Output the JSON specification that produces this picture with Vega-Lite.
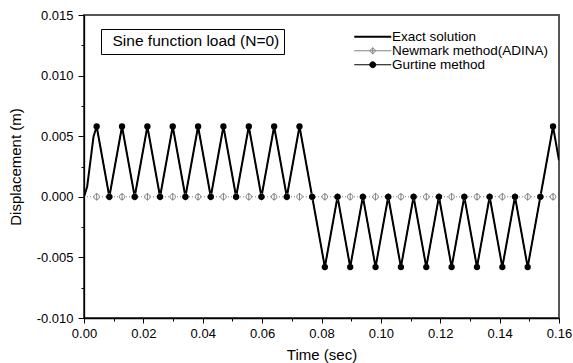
{
  "$schema": "https://vega.github.io/schema/vega-lite/v6.json",
  "width": 475,
  "height": 303,
  "autosize": "none",
  "padding": {"left": 84, "top": 15, "right": 14, "bottom": 45},
  "background": "white",
  "config": {
    "font": "Liberation Sans",
    "view": {"stroke": "#555555", "strokeWidth": 2},
    "axis": {"grid": false, "domainColor": "black", "tickColor": "black", "labelColor": "black", "titleColor": "black", "titleFontWeight": "normal", "labelFontSize": 13, "titleFontSize": 15, "domainWidth": 1.3, "tickWidth": 1}
  },
  "datasets": {
    "exact": [
      {"t":0,"y":0},{"t":0.00107,"y":0.00085},{"t":0.00214,"y":0.0029},{"t":0.0032,"y":0.00495},{"t":0.00427,"y":0.0058},
      {"t":0.00854,"y":0},{"t":0.01281,"y":0.0058},{"t":0.01708,"y":0},{"t":0.02135,"y":0.0058},{"t":0.02562,"y":0},{"t":0.02989,"y":0.0058},{"t":0.03416,"y":0},{"t":0.03843,"y":0.0058},
      {"t":0.0427,"y":0},{"t":0.04697,"y":0.0058},{"t":0.05124,"y":0},{"t":0.05551,"y":0.0058},{"t":0.05978,"y":0},{"t":0.06405,"y":0.0058},{"t":0.06832,"y":0},{"t":0.07259,"y":0.0058},{"t":0.07686,"y":0},
      {"t":0.08113,"y":-0.0058},{"t":0.0854,"y":0},{"t":0.08967,"y":-0.0058},{"t":0.09394,"y":0},{"t":0.09821,"y":-0.0058},{"t":0.10248,"y":0},{"t":0.10675,"y":-0.0058},{"t":0.11102,"y":0},{"t":0.11529,"y":-0.0058},
      {"t":0.11956,"y":0},{"t":0.12383,"y":-0.0058},{"t":0.1281,"y":0},{"t":0.13237,"y":-0.0058},{"t":0.13664,"y":0},{"t":0.14091,"y":-0.0058},{"t":0.14518,"y":0},{"t":0.14945,"y":-0.0058},{"t":0.15372,"y":0},{"t":0.15799,"y":0.0058},
      {"t":0.16,"y":0.003}
    ],
    "newmark": [
      {"t":0,"y":0},{"t":0.00427,"y":0},{"t":0.00854,"y":0},{"t":0.01281,"y":0},{"t":0.01708,"y":0},{"t":0.02135,"y":0},{"t":0.02562,"y":0},{"t":0.02989,"y":0},{"t":0.03416,"y":0},{"t":0.03843,"y":0},
      {"t":0.0427,"y":0},{"t":0.04697,"y":0},{"t":0.05124,"y":0},{"t":0.05551,"y":0},{"t":0.05978,"y":0},{"t":0.06405,"y":0},{"t":0.06832,"y":0},{"t":0.07259,"y":0},{"t":0.07686,"y":0},{"t":0.08113,"y":0},
      {"t":0.0854,"y":0},{"t":0.08967,"y":0},{"t":0.09394,"y":0},{"t":0.09821,"y":0},{"t":0.10248,"y":0},{"t":0.10675,"y":0},{"t":0.11102,"y":0},{"t":0.11529,"y":0},{"t":0.11956,"y":0},{"t":0.12383,"y":0},
      {"t":0.1281,"y":0},{"t":0.13237,"y":0},{"t":0.13664,"y":0},{"t":0.14091,"y":0},{"t":0.14518,"y":0},{"t":0.14945,"y":0},{"t":0.15372,"y":0},{"t":0.15799,"y":0}
    ],
    "gurtine": [
      {"t":0.00427,"y":0.0058},{"t":0.00854,"y":0},{"t":0.01281,"y":0.0058},{"t":0.01708,"y":0},{"t":0.02135,"y":0.0058},{"t":0.02562,"y":0},{"t":0.02989,"y":0.0058},{"t":0.03416,"y":0},{"t":0.03843,"y":0.0058},
      {"t":0.0427,"y":0},{"t":0.04697,"y":0.0058},{"t":0.05124,"y":0},{"t":0.05551,"y":0.0058},{"t":0.05978,"y":0},{"t":0.06405,"y":0.0058},{"t":0.06832,"y":0},{"t":0.07259,"y":0.0058},{"t":0.07686,"y":0},
      {"t":0.08113,"y":-0.0058},{"t":0.0854,"y":0},{"t":0.08967,"y":-0.0058},{"t":0.09394,"y":0},{"t":0.09821,"y":-0.0058},{"t":0.10248,"y":0},{"t":0.10675,"y":-0.0058},{"t":0.11102,"y":0},{"t":0.11529,"y":-0.0058},
      {"t":0.11956,"y":0},{"t":0.12383,"y":-0.0058},{"t":0.1281,"y":0},{"t":0.13237,"y":-0.0058},{"t":0.13664,"y":0},{"t":0.14091,"y":-0.0058},{"t":0.14518,"y":0},{"t":0.14945,"y":-0.0058},{"t":0.15372,"y":0},{"t":0.15799,"y":0.0058}
    ]
  },
  "encoding": {
    "x": {
      "field": "t", "type": "quantitative",
      "scale": {"domain": [0, 0.16], "nice": false},
      "axis": {
        "title": "Time (sec)",
        "values": [0,0.01,0.02,0.03,0.04,0.05,0.06,0.07,0.08,0.09,0.1,0.11,0.12,0.13,0.14,0.15,0.16],
        "labelExpr": "round(datum.value*100) % 2 == 0 ? format(datum.value, '.2f') : ''",
        "tickSize": {"condition": {"test": "round(datum.value*100) % 2 == 0", "value": 5}, "value": 3},
        "labelPadding": 4, "titlePadding": 7, "labelFlush": false, "labelOverlap": false
      }
    },
    "y": {
      "field": "y", "type": "quantitative",
      "scale": {"domain": [-0.01, 0.015], "nice": false},
      "axis": {
        "title": "Displacement (m)",
        "values": [-0.01,-0.0075,-0.005,-0.0025,0,0.0025,0.005,0.0075,0.01,0.0125,0.015],
        "labelExpr": "abs(round(datum.value*400)) % 2 == 0 ? replace(format(datum.value, '.3f'), '−', '-') : ''",
        "tickSize": {"condition": {"test": "abs(round(datum.value*400)) % 2 == 0", "value": 6}, "value": 3},
        "labelPadding": 5, "titlePadding": 13, "labelFlush": false, "labelOverlap": false
      }
    }
  },
  "layer": [
    {
      "data": {"name": "newmark"},
      "mark": {"type": "line", "stroke": "#808080", "strokeWidth": 1, "strokeDash": [1, 2], "clip": true}
    },
    {
      "data": {"name": "exact"},
      "mark": {"type": "line", "strokeWidth": 2, "clip": true},
      "encoding": {
        "color": {
          "datum": "Exact solution",
          "scale": {"domain": ["Exact solution", "Newmark method(ADINA)", "Gurtine method"], "range": ["black", "#808080", "black"]},
          "legend": {
            "orient": "none", "legendX": 282, "legendY": 15, "title": null, "padding": 0,
            "labelFont": "Liberation Sans", "labelFontSize": 13.5, "labelColor": "black", "labelOffset": 12.5,
            "symbolSize": 1369, "rowPadding": -1, "labelLimit": 300,
            "encode": {"symbols": {"update": {
              "shape": {"signal": "datum.value === 'Exact solution' ? 'M-1,0L1,0' : datum.value === 'Gurtine method' ? 'M-1,0L1,0M0.16,0A0.16,0.16,0,1,1,-0.16,0A0.16,0.16,0,1,1,0.16,0Z' : 'M-1,0L1,0M0.13,0A0.13,0.13,0,1,1,-0.13,0A0.13,0.13,0,1,1,0.13,0ZM0,-0.19L0,0.19'"},
              "fill": {"signal": "datum.value === 'Gurtine method' ? 'black' : datum.value === 'Newmark method(ADINA)' ? 'white' : 'transparent'"},
              "stroke": {"signal": "datum.value === 'Newmark method(ADINA)' ? '#808080' : 'black'"},
              "strokeWidth": {"signal": "datum.value === 'Exact solution' ? 2 : 1"},
              "opacity": {"value": 1}
            }}}
          }
        }
      }
    },
    {
      "data": {"name": "gurtine"},
      "mark": {"type": "line", "stroke": "black", "strokeWidth": 1, "clip": true}
    },
    {
      "data": {"name": "newmark"},
      "transform": [{"filter": "datum.t > 0"}],
      "mark": {"type": "point", "fill": "white", "stroke": "#808080", "strokeWidth": 1, "size": 30, "opacity": 1, "fillOpacity": 1, "clip": true},
      "encoding": {
        "shape": {
          "datum": "Sine function load (N=0)",
          "scale": {"range": ["M1,0A1,1,0,1,1,-1,0A1,1,0,1,1,1,0ZM0,-1.4L0,1.4"]},
          "legend": {
            "orient": "none", "legendX": 17, "legendY": 14, "title": null,
            "strokeColor": "black", "padding": 4,
            "symbolSize": 0, "symbolOpacity": 0, "labelOffset": -8, "labelLimit": 400,
            "labelFont": "Liberation Sans", "labelFontSize": 15.5, "labelColor": "black"
          }
        }
      }
    },
    {
      "data": {"name": "gurtine"},
      "mark": {"type": "point", "shape": "circle", "filled": true, "color": "black", "size": 40, "opacity": 1, "clip": true}
    }
  ]
}
